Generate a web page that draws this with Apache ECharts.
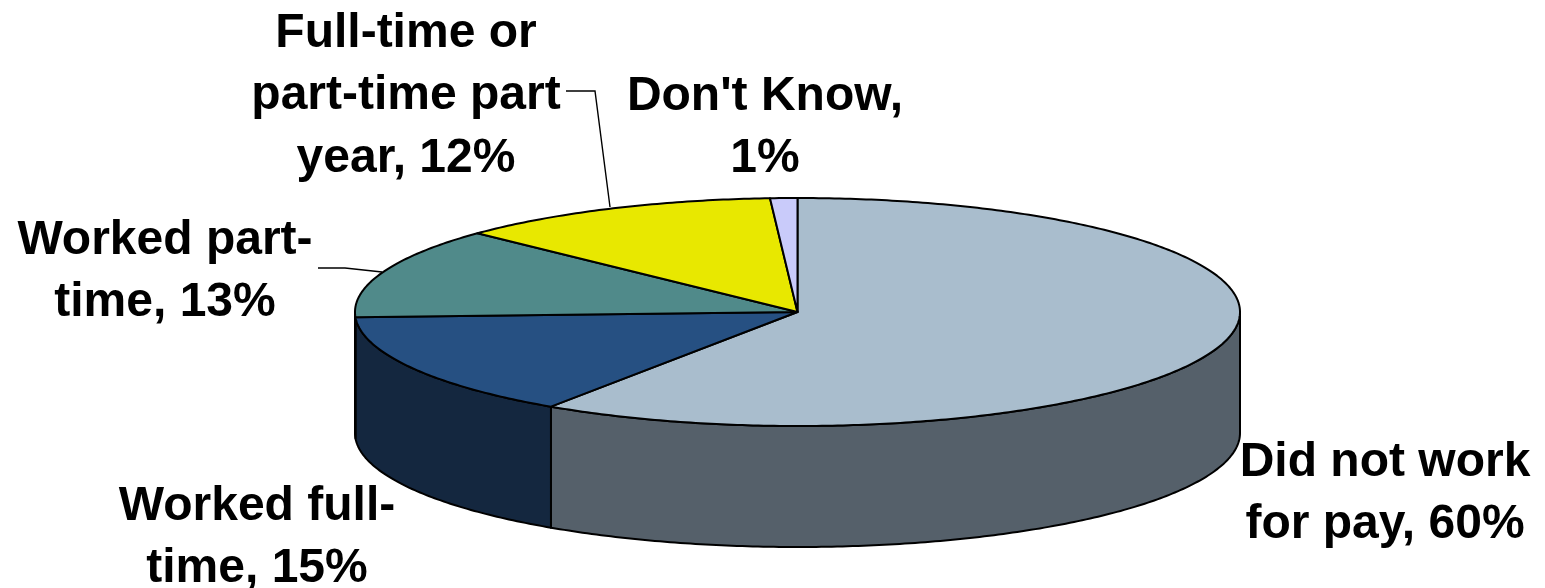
<!DOCTYPE html>
<html><head><meta charset="utf-8">
<style>html,body{margin:0;padding:0;background:#fff}#c{width:1545px;height:588px}</style>
<script src="https://cdn.jsdelivr.net/npm/echarts@6/dist/echarts.min.js"></script>
</head><body><div id="c"></div>
<script>
const categories = ["Did not work for pay", "Worked full-time", "Worked part-time", "Full-time or part-time part year", "Don't Know"];
const values = [60, 15, 13, 12, 1];
const labelLines = [
  ["Did not work", "for pay, 60%"],
  ["Worked full-", "time, 15%"],
  ["Worked part-", "time, 13%"],
  ["Full-time or", "part-time part", "year, 12%"],
  ["Don't Know,", "1%"]
];
const topColors = ["#A9BDCD", "#265082", "#508A8A", "#E8E800", "#C9CBFA"];
const sideColors = ["#55606A", "#14273F", "#2E5050", "#808000", "#70708A"];
const labelCentres = [[1385, 494], [257, 538], [165, 272], [406, 96], [765, 128]];
const leaderPaths = [null, null, [[318, 268], [345, 268], [382, 272]], [[566, 91], [595, 91], [610, 207]], null];

const CX = 797.5, CY = 312, RX = 442.5, RY = 114, DEPTH = 121;
const total = values.reduce((a, b) => a + b, 0);
const startOf = i => values.slice(0, i).reduce((a, b) => a + b, 0) / total * Math.PI * 2;
const pt = (t, dy) => [CX + RX * Math.sin(t), CY - RY * Math.cos(t) + (dy || 0)];
function arc(a, b, dy) {
  const n = Math.max(2, Math.ceil((b - a) / 0.012)), out = [];
  for (let k = 0; k <= n; k++) out.push(pt(a + (b - a) * k / n, dy));
  return out;
}
const edge = {stroke: "#000", lineWidth: 2, lineJoin: "round"};

function renderSide(p, api) {
  const i = api.value(0);
  const a = Math.max(startOf(i), Math.PI / 2), b = Math.min(startOf(i + 1), Math.PI * 1.5);
  if (b <= a) return {type: "group", children: []};
  const pts = arc(a, b, 0).concat(arc(a, b, DEPTH).reverse());
  return {type: "polygon", shape: {points: pts}, style: Object.assign({fill: sideColors[i]}, edge)};
}
function renderTop(p, api) {
  const i = api.value(0);
  const pts = [[CX, CY]].concat(arc(startOf(i), startOf(i + 1), 0));
  return {type: "polygon", shape: {points: pts}, style: Object.assign({fill: topColors[i]}, edge)};
}
function renderLabel(p, api) {
  const i = api.value(0), kids = [];
  if (leaderPaths[i]) kids.push({type: "polyline", shape: {points: leaderPaths[i]}, style: {stroke: "#000", lineWidth: 1.4, fill: "none"}});
  kids.push({type: "text", style: {
    x: labelCentres[i][0], y: labelCentres[i][1], text: labelLines[i].join("\n"),
    align: "center", verticalAlign: "middle", lineHeight: 62.5,
    font: "bold 48px 'Liberation Sans', Arial, sans-serif", fill: "#000"
  }});
  return {type: "group", children: kids};
}
const rows = categories.map((c, i) => [i, values[i], c]);
const chart = echarts.init(document.getElementById("c"), null, {renderer: "canvas"});
const mk = (fn, z) => ({type: "custom", coordinateSystem: "none", renderItem: fn, data: rows, z, silent: true, animation: false, clip: false});
chart.setOption({
  animation: false,
  backgroundColor: "#fff",
  series: [mk(renderSide, 1), mk(renderTop, 2), mk(renderLabel, 3)]
});
</script></body></html>
